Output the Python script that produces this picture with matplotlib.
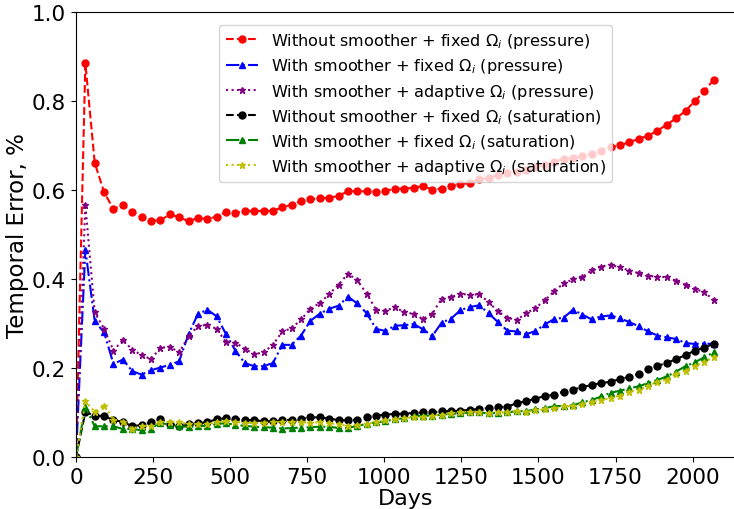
import matplotlib
matplotlib.use("Agg")
import matplotlib.pyplot as plt
import numpy as np

# monthly report steps (365/12 days apart)
days = np.arange(69) * 365 / 12

p_no_smooth_fixed = [
    0, .885, .661, .595, .557, .567, .550, .539, .531, .532,
    .545, .539, .530, .537, .535, .540, .551, .548, .553, .553,
    .553, .553, .561, .567, .575, .579, .582, .582, .587, .597,
    .597, .597, .596, .598, .603, .603, .605, .609, .601, .603,
    .609, .613, .616, .625, .626, .634, .638, .641, .645, .651,
    .657, .663, .670, .672, .676, .681, .688, .696, .701, .707,
    .715, .722, .733, .747, .761, .778, .800, .822, .848,
]
p_smooth_fixed = [
    0, .466, .305, .280, .209, .219, .193, .185, .195, .201,
    .207, .215, .276, .321, .331, .316, .276, .239, .211, .204,
    .204, .211, .252, .252, .273, .306, .322, .333, .340, .360,
    .345, .323, .288, .283, .295, .296, .299, .287, .272, .302,
    .311, .330, .337, .341, .323, .303, .284, .282, .276, .283,
    .298, .310, .313, .331, .320, .309, .316, .318, .312, .303,
    .294, .282, .273, .269, .265, .256, .254, .255, .254,
]
p_smooth_adaptive = [
    0, .567, .325, .288, .239, .263, .241, .229, .220, .245,
    .248, .235, .271, .294, .297, .288, .258, .257, .243, .231,
    .235, .252, .282, .289, .309, .333, .346, .366, .387, .412,
    .397, .367, .331, .329, .336, .326, .321, .310, .322, .356,
    .359, .367, .364, .366, .348, .327, .313, .308, .323, .335,
    .352, .373, .390, .399, .404, .420, .428, .432, .426, .419,
    .413, .407, .405, .404, .396, .387, .378, .370, .353,
]
s_no_smooth_fixed = [
    0, .101, .093, .092, .083, .079, .069, .072, .078, .085,
    .074, .069, .073, .076, .078, .085, .087, .086, .083, .083,
    .080, .080, .082, .084, .086, .089, .089, .086, .083, .082,
    .084, .089, .093, .095, .097, .097, .099, .100, .100, .103,
    .103, .104, .106, .108, .110, .112, .113, .121, .125, .131,
    .137, .140, .147, .151, .157, .162, .166, .169, .175, .180,
    .187, .198, .205, .211, .220, .229, .239, .246, .254,
]
s_smooth_fixed = [
    0, .112, .069, .069, .069, .063, .063, .060, .064, .077,
    .072, .069, .068, .069, .070, .074, .076, .072, .070, .068,
    .067, .066, .064, .065, .066, .067, .068, .068, .065, .065,
    .070, .074, .078, .080, .085, .087, .091, .093, .093, .095,
    .097, .098, .100, .100, .098, .099, .100, .103, .103, .107,
    .110, .114, .115, .116, .123, .128, .136, .144, .149, .154,
    .159, .166, .173, .181, .192, .204, .213, .224, .235,
]
s_smooth_adaptive = [
    0, .125, .102, .115, .084, .079, .064, .070, .070, .078,
    .079, .078, .074, .074, .075, .078, .080, .079, .077, .077,
    .077, .078, .079, .078, .078, .077, .078, .076, .073, .070,
    .072, .074, .078, .082, .085, .087, .089, .090, .093, .095,
    .098, .100, .100, .100, .098, .100, .100, .103, .102, .105,
    .107, .109, .114, .114, .118, .123, .127, .133, .138, .147,
    .151, .160, .169, .174, .187, .194, .205, .214, .224,
]

fig = plt.figure(figsize=(7.34, 5.10), dpi=100)
# right spine sits just past the figure edge
ax = fig.add_axes([0.1035, 0.102, 0.8985, 0.8725])

ax.plot(days, p_no_smooth_fixed, "r--o", ms=5, lw=1.5,
        label=r"Without smoother + fixed $\Omega_i$ (pressure)")
ax.plot(days, p_smooth_fixed, "b-.^", ms=5, lw=1.5,
        label=r"With smoother + fixed $\Omega_i$ (pressure)")
ax.plot(days, p_smooth_adaptive, ":*", color="purple", ms=5, lw=1.5,
        label=r"With smoother + adaptive $\Omega_i$ (pressure)")
ax.plot(days, s_no_smooth_fixed, "k--o", ms=5, lw=1.5,
        label=r"Without smoother + fixed $\Omega_i$ (saturation)")
ax.plot(days, s_smooth_fixed, "g-.^", ms=5, lw=1.5,
        label=r"With smoother + fixed $\Omega_i$ (saturation)")
ax.plot(days, s_smooth_adaptive, "y:*", ms=5, lw=1.5,
        label=r"With smoother + adaptive $\Omega_i$ (saturation)")

ax.set_xlim(0, 2139)
ax.set_ylim(0, 1.0)
ax.set_xticks([0, 250, 500, 750, 1000, 1250, 1500, 1750, 2000])
ax.set_yticks([0.0, 0.2, 0.4, 0.6, 0.8, 1.0])
ax.tick_params(labelsize=15.5)
ax.set_xlabel("Days", fontsize=16, labelpad=1)
ax.set_ylabel("Temporal Error, %", fontsize=16.5, labelpad=2)
ax.legend(loc="upper center", fontsize=11.6, labelspacing=0.4,
          bbox_to_anchor=(0.515, 0.99))

fig.savefig("out.png", dpi=100)
